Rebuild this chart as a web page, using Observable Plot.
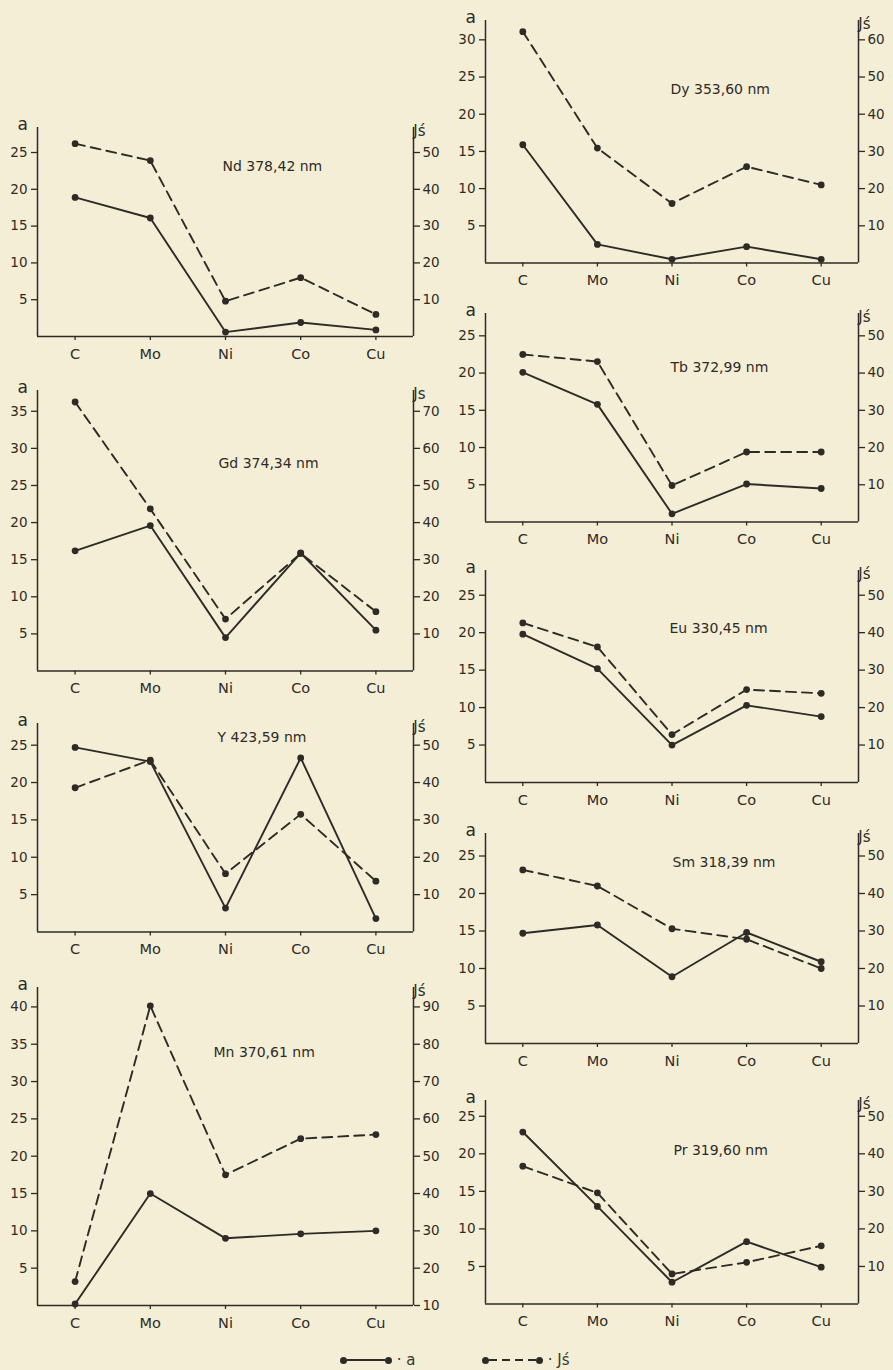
<!DOCTYPE html>
<html>
<head>
<meta charset="utf-8">
<script src="https://cdn.jsdelivr.net/npm/d3@7"></script>
<script src="https://cdn.jsdelivr.net/npm/@observablehq/plot@0.6"></script>
<style>
  html, body { margin: 0; padding: 0; background: #f4eed6; }
  #page { position: relative; width: 893px; height: 1370px; overflow: hidden; background: #f4eed6; font-family: "DejaVu Sans", sans-serif; color: #2e2b27; }
  #page svg { position: absolute; background: transparent !important; overflow: visible; }
  .legend { position: absolute; display: flex; align-items: center; font-size: 15px; color: #3a3630; }
  .legend .dot { width: 7px; height: 7px; border-radius: 50%; background: #2e2b27; }
  .legend .seg { height: 1.7px; }
</style>
</head>
<body>
<div id="page"></div>
<script>
// ---- data ----
const categories = ["C", "Mo", "Ni", "Co", "Cu"];

const nd_a  = [18.9, 16.1, 0.6, 1.9, 0.9];
const nd_js = [52.4, 47.8, 9.6, 16.0, 6.0];

const gd_a  = [16.2, 19.6, 4.5, 15.9, 5.5];
const gd_js = [72.5, 43.7, 14.0, 31.7, 16.0];

const y_a   = [24.7, 22.8, 3.2, 23.3, 1.8];
const y_js  = [38.6, 46.0, 15.6, 31.5, 13.6];

const mn_a  = [0.2, 15.0, 9.0, 9.6, 10.0];
const mn_js = [16.4, 90.3, 45.0, 54.7, 55.8];

const dy_a  = [15.9, 2.5, 0.5, 2.2, 0.5];
const dy_js = [62.2, 30.9, 16.0, 25.9, 21.0];

const tb_a  = [20.1, 15.8, 1.1, 5.1, 4.5];
const tb_js = [45.0, 43.1, 9.8, 18.8, 18.8];

const eu_a  = [19.8, 15.2, 5.0, 10.3, 8.8];
const eu_js = [42.6, 36.2, 12.8, 24.8, 23.8];

const sm_a  = [14.7, 15.8, 8.9, 14.8, 10.9];
const sm_js = [46.3, 42.0, 30.6, 27.8, 20.0];

const pr_a  = [22.9, 13.0, 2.9, 8.3, 4.9];
const pr_js = [36.7, 29.6, 8.0, 11.1, 15.5];

// tick values (left axis "a"); right axis Jś = 2·a + offset
const ticks25 = [5, 10, 15, 20, 25];
const ticks30 = [5, 10, 15, 20, 25, 30];
const ticks35 = [5, 10, 15, 20, 25, 30, 35];
const ticks40 = [5, 10, 15, 20, 25, 30, 35, 40];
const ticks0to40 = [0, 5, 10, 15, 20, 25, 30, 35, 40];

// ---- layout ----
const panels = [
  {title: "Nd 378,42 nm", a: nd_a, js: nd_js, col: 0, top: 127, zero: 336,  max: 28.4, lt: ticks25, rt: ticks25, off: 0,  jl: "Jś", tdx: 185, tdy: 39},
  {title: "Gd 374,34 nm", a: gd_a, js: gd_js, col: 0, top: 390, zero: 670.5, max: 37.8, lt: ticks35, rt: ticks35, off: 0, jl: "Js", tdx: 181, tdy: 73},
  {title: "Y 423,59 nm",  a: y_a,  js: y_js,  col: 0, top: 723, zero: 931.5, max: 27.9, lt: ticks25, rt: ticks25, off: 0, jl: "Jś", tdx: 180, tdy: 14},
  {title: "Mn 370,61 nm", a: mn_a, js: mn_js, col: 0, top: 987, zero: 1305, max: 42.6, lt: ticks40, rt: ticks0to40, off: 10, jl: "Jś", tdx: 176, tdy: 65},
  {title: "Dy 353,60 nm", a: dy_a, js: dy_js, col: 1, top: 20,  zero: 262.5, max: 32.6, lt: ticks30, rt: ticks30, off: 0, jl: "Jś", tdx: 185, tdy: 69},
  {title: "Tb 372,99 nm", a: tb_a, js: tb_js, col: 1, top: 313, zero: 521.5, max: 28.0, lt: ticks25, rt: ticks25, off: 0, jl: "Jś", tdx: 185, tdy: 54},
  {title: "Eu 330,45 nm", a: eu_a, js: eu_js, col: 1, top: 570, zero: 782,  max: 28.3, lt: ticks25, rt: ticks25, off: 0,  jl: "Jś", tdx: 184, tdy: 58},
  {title: "Sm 318,39 nm", a: sm_a, js: sm_js, col: 1, top: 833, zero: 1043, max: 28.0, lt: ticks25, rt: ticks25, off: 0,  jl: "Jś", tdx: 187, tdy: 29},
  {title: "Pr 319,60 nm", a: pr_a, js: pr_js, col: 1, top: 1100, zero: 1303.5, max: 27.1, lt: ticks25, rt: ticks25, off: 0, jl: "Jś", tdx: 188, tdy: 50}
];

const ink = "#2e2b27";
const page = document.getElementById("page");
const mTop = 20, mBottom = 34, mLeft = 37, mRight = 35;

for (const p of panels) {
  const data = categories.map((c, i) => ({i, cat: c, a: p.a[i], js: p.js[i]}));
  const toA = v => (v - p.off) / 2;
  const svgLeft = p.col === 0 ? 0 : 448;
  const width = p.col === 0 ? 448 : 445;
  const height = mTop + (p.zero - p.top) + mBottom;
  const chart = Plot.plot({
    width, height,
    marginTop: mTop, marginBottom: mBottom, marginLeft: mLeft, marginRight: mRight,
    style: {fontFamily: "DejaVu Sans, sans-serif", fontSize: "13.5px", color: ink, background: "transparent"},
    x: {type: "linear", domain: [-0.5, 4.5], axis: null},
    y: {domain: [0, p.max], axis: null},
    marks: [
      Plot.ruleX([-0.5, 4.5], {stroke: ink, strokeWidth: 1.5}),
      Plot.ruleY([0], {stroke: ink, strokeWidth: 1.5}),
      Plot.axisY(p.lt, {anchor: "left", tickSize: 6, tickPadding: 4, stroke: ink, strokeWidth: 1.3, fill: ink, fontSize: 13.5, tickFormat: d => d, label: null}),
      Plot.axisY(p.rt, {anchor: "right", tickSize: 6, tickPadding: 3, stroke: ink, strokeWidth: 1.3, fill: ink, fontSize: 13.5, tickFormat: d => 2 * d + p.off, label: null}),
      Plot.axisX([0, 1, 2, 3, 4], {anchor: "bottom", tickSize: 4, tickPadding: 8, stroke: ink, strokeWidth: 1.3, fill: ink, fontSize: 14.5, tickFormat: i => categories[i], label: null}),
      Plot.text(["a"], {frameAnchor: "top-left", dx: -20, dy: -3, fontSize: 17, fill: ink, lineAnchor: "middle"}),
      Plot.text([p.jl], {frameAnchor: "top-right", dx: 12, dy: 4, fontSize: 15, fill: ink, lineAnchor: "middle"}),
      Plot.text([p.title], {frameAnchor: "top-left", dx: p.tdx, dy: p.tdy, textAnchor: "start", lineAnchor: "middle", fontSize: 14, fill: ink}),
      Plot.line(data, {x: "i", y: d => toA(d.js), stroke: ink, strokeWidth: 1.9, strokeDasharray: "10,6"}),
      Plot.line(data, {x: "i", y: "a", stroke: ink, strokeWidth: 1.9}),
      Plot.dot(data, {x: "i", y: d => toA(d.js), r: 3.4, fill: ink, stroke: "none"}),
      Plot.dot(data, {x: "i", y: "a", r: 3.4, fill: ink, stroke: "none"})
    ]
  });
  chart.style.left = svgLeft + "px";
  chart.style.top = (p.top - mTop) + "px";
  page.appendChild(chart);
}

// ---- legend ----
function legendItem(left, segWidth, dashed, label) {
  const el = document.createElement("div");
  el.className = "legend";
  el.style.left = left + "px";
  el.style.top = "1351px";
  const d1 = document.createElement("span"); d1.className = "dot";
  const seg = document.createElement("span"); seg.className = "seg";
  seg.style.width = segWidth + "px";
  seg.style.background = dashed
    ? "repeating-linear-gradient(to right, " + ink + " 0 8px, transparent 8px 13px)"
    : ink;
  const d2 = document.createElement("span"); d2.className = "dot";
  const t = document.createElement("span");
  t.textContent = "\u00a0·\u00a0" + label;
  el.append(d1, seg, d2, t);
  page.appendChild(el);
}
legendItem(340, 38, false, "a");
legendItem(482, 47, true, "Jś");
</script>
</body>
</html>
